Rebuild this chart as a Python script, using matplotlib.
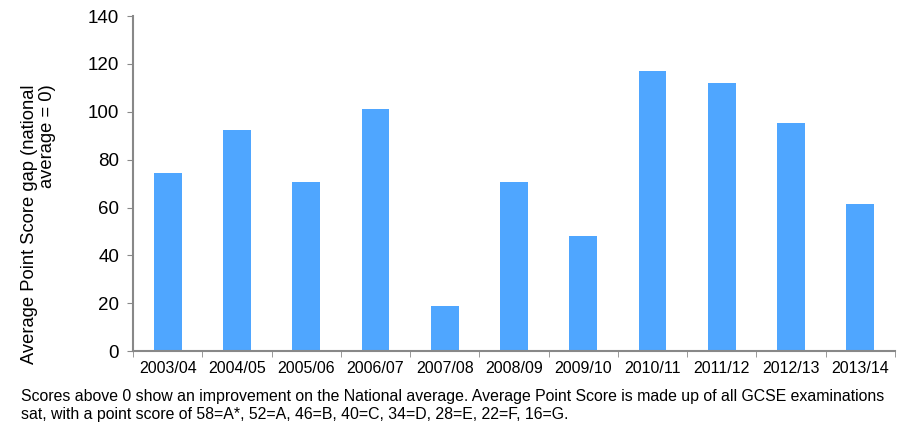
import numpy as np
import matplotlib.pyplot as plt

plt.rcParams['font.family'] = ['Liberation Sans', 'DejaVu Sans']

# data
years = ["2003/04", "2004/05", "2005/06", "2006/07", "2007/08", "2008/09",
         "2009/10", "2010/11", "2011/12", "2012/13", "2013/14"]
gap = [74.4, 92.3, 70.6, 101.1, 18.8, 70.6, 48.1, 117.0, 112.0, 95.3, 61.4]
y_ticks = [0, 20, 40, 60, 80, 100, 120, 140]

note = ("Scores above 0 show an improvement on the National average. Average Point Score is made up of all GCSE examinations\n"
        "sat, with a point score of 58=A*, 52=A, 46=B, 40=C, 34=D, 28=E, 22=F, 16=G.")

fig = plt.figure(figsize=(8.99, 4.23), dpi=100)
ax = fig.add_axes([0.148, 0.170, 0.8475, 0.792])

x = np.arange(len(years))
ax.bar(x, gap, width=0.4, color="#4FA6FF")

ax.set_xlim(-0.5, len(years) - 0.5)
ax.set_ylim(0, 140)
ax.set_yticks(y_ticks)
ax.set_yticklabels([str(t) for t in y_ticks], fontsize=13.5)
ax.set_xticks(x)
ax.set_xticklabels(years, fontsize=11.5)
ax.tick_params(axis="x", length=0, pad=7)
# boundary ticks between categories
ax.set_xticks(np.arange(len(years) + 1) - 0.5, minor=True)
ax.tick_params(axis="x", which="minor", length=4, color="#888888", direction="out")
ax.tick_params(axis="y", length=4, color="#888888", direction="out", pad=6)

for s in ["top", "right"]:
    ax.spines[s].set_visible(False)
for s in ["left", "bottom"]:
    ax.spines[s].set_color("#888888")
    ax.spines[s].set_linewidth(1.5)

# y label: two lines, aligned at the top end
fig.text(0.043, 0.80, "Average Point Score gap (national\naverage = 0)", fontsize=13.2,
         rotation=90, ha="center", va="top", multialignment="right", linespacing=1.1)

fig.text(0.023, 0.041, note, fontsize=11.4, va="center", ha="left", linespacing=1.2)

fig.savefig("out.png", dpi=100)
